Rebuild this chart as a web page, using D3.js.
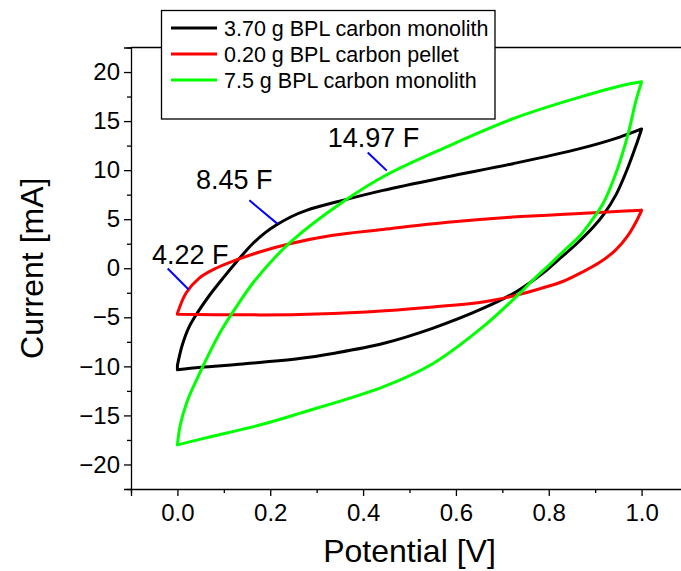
<!DOCTYPE html>
<html><head><meta charset="utf-8">
<script src="https://cdn.jsdelivr.net/npm/d3@7"></script>
<style>
html,body{margin:0;padding:0;background:#fff;}
svg{display:block;font-family:Arial,"Liberation Sans",sans-serif;}
</style></head>
<body>
<svg id="chart" width="681" height="571"></svg>
<script>
// ---- data ----
const seriesNames = ["3.70 g BPL carbon monolith", "0.20 g BPL carbon pellet", "7.5 g BPL carbon monolith"];
const seriesColors = ["#000000", "#ff0000", "#00ff00"];

// 3.70 g monolith: forward scan then reverse scan
const blackV = [0, 0.01, 0.025, 0.045, 0.07, 0.1, 0.127, 0.16, 0.19, 0.213, 0.245, 0.278, 0.356, 0.443, 0.579, 0.723, 0.867, 0.953, 1.0,
                0.988, 0.97, 0.945, 0.92, 0.896, 0.86, 0.824, 0.795, 0.76, 0.73, 0.658, 0.551, 0.443, 0.335, 0.263, 0.141, 0.05, 0];
const blackI = [-9.9, -7.9, -6.0, -4.4, -2.7, -0.9, 0.64, 2.4, 3.65, 4.4, 5.25, 5.9, 6.92, 7.94, 9.3, 10.66, 12.19, 13.37, 14.2,
                12.5, 10.2, 7.5, 5.6, 4.2, 2.5, 1.0, -0.2, -1.45, -2.4, -4.1, -6.1, -7.67, -8.68, -9.2, -9.75, -10.1, -10.35];

// 0.20 g pellet
const redV = [0, 0.019, 0.047, 0.083, 0.127, 0.177, 0.242, 0.335, 0.443, 0.582, 0.723, 0.867, 0.975, 1.0,
              0.99, 0.97, 0.945, 0.91, 0.87, 0.83, 0.78, 0.73, 0.658, 0.551, 0.407, 0.263, 0.141, 0];
const redI = [-4.6, -2.5, -1.0, 0.0, 0.85, 1.66, 2.5, 3.36, 3.95, 4.68, 5.22, 5.57, 5.85, 5.9,
              4.9, 3.3, 1.9, 0.6, -0.45, -1.35, -2.1, -2.75, -3.43, -3.94, -4.45, -4.72, -4.75, -4.7];

// 7.5 g monolith
const greenV = [0, 0.006, 0.02, 0.04, 0.065, 0.095, 0.13, 0.166, 0.21, 0.249, 0.356, 0.45, 0.579, 0.723, 0.867, 0.975, 1.0,
                0.988, 0.971, 0.947, 0.917, 0.89, 0.867, 0.84, 0.80, 0.766, 0.73, 0.658, 0.551, 0.443, 0.263, 0.177, 0.069, 0];
const greenI = [-18.0, -16.0, -13.7, -11.5, -9.0, -6.3, -3.7, -1.3, 1.1, 2.9, 6.75, 9.5, 12.35, 15.24, 17.44, 18.8, 19.0,
                17.1, 13.7, 10.0, 6.6, 4.7, 3.3, 2.1, 0.3, -1.2, -2.9, -5.98, -9.7, -12.09, -14.79, -15.98, -17.2, -18.0];

const xTicks = [0.0, 0.2, 0.4, 0.6, 0.8, 1.0];
const xMinorTicks = [-0.1, 0.1, 0.3, 0.5, 0.7, 0.9, 1.1];
const yTicks = [-20, -15, -10, -5, 0, 5, 10, 15, 20];
const yMinorTicks = [-22.5, -17.5, -12.5, -7.5, -2.5, 2.5, 7.5, 12.5, 17.5, 22.5];

// capacitance annotations (text anchor and leader line, in data units)
const capLabels = ["14.97 F", "8.45 F", "4.22 F"];
const capTextV = [0.324, 0.040, -0.055];
const capTextI = [12.32, 8.1, 0.48];
const capLeadV1 = [0.410, 0.155, -0.021];
const capLeadI1 = [11.8, 6.92, -0.03];
const capLeadV2 = [0.451, 0.215, 0.024];
const capLeadI2 = [9.95, 4.55, -2.17];

// ---- drawing ----
const svg = d3.select("#chart");
const x = d3.scaleLinear().domain([-0.1, 1.1]).range([131, 688]);
const y = d3.scaleLinear().domain([-22.5, 22.5]).range([489, 47.5]);

const series = [
  {V: blackV, I: blackI},
  {V: redV, I: redI},
  {V: greenV, I: greenI}
];

const line = d3.line().x(d => x(d[0])).y(d => y(d[1])).curve(d3.curveCatmullRom.alpha(0.5));

series.forEach((s, k) => {
  const pts = s.V.map((v, i) => [v, s.I[i]]);
  const iMax = d3.maxIndex(pts, d => d[0]);
  const fwd = pts.slice(0, iMax + 1);
  const rev = pts.slice(iMax);
  svg.append("path")
    .attr("d", line(fwd) + line(rev) + line([pts[pts.length - 1], pts[0]]))
    .attr("fill", "none")
    .attr("stroke", seriesColors[k])
    .attr("stroke-width", 3)
    .attr("stroke-linejoin", "miter")
    .attr("stroke-linecap", "round");
});

// axes
const axisG = svg.append("g");
axisG.append("line").attr("x1", x(-0.1)).attr("x2", x(1.1)).attr("y1", y(22.5)).attr("y2", y(22.5))
  .attr("stroke", "#000").attr("stroke-width", 1.3);

const xAxis = d3.axisBottom(x).tickValues(xTicks).tickFormat(d3.format(".1f")).tickSize(7).tickPadding(8);
axisG.append("g").attr("transform", `translate(0,${y(-22.5)})`).call(xAxis);
const xMinor = d3.axisBottom(x).tickValues(xMinorTicks).tickFormat("").tickSize(4);
axisG.append("g").attr("transform", `translate(0,${y(-22.5)})`).call(xMinor).select(".domain").remove();

const yAxis = d3.axisLeft(y).tickValues(yTicks).tickSize(7).tickPadding(4);
axisG.append("g").attr("transform", `translate(${x(-0.1)},0)`).call(yAxis);
const yMinor = d3.axisLeft(y).tickValues(yMinorTicks).tickFormat("").tickSize(4);
axisG.append("g").attr("transform", `translate(${x(-0.1)},0)`).call(yMinor).select(".domain").remove();

axisG.selectAll(".domain").attr("stroke", "#000").attr("stroke-width", 1.3);
axisG.selectAll(".tick line").attr("stroke", "#000").attr("stroke-width", 1.3);
axisG.selectAll(".tick text").attr("font-size", 24).attr("font-family", "Arial, 'Liberation Sans', sans-serif").attr("fill", "#000");

// axis titles
svg.append("text").attr("x", (x(-0.1) + x(1.1)) / 2).attr("y", 562)
  .attr("text-anchor", "middle").attr("font-size", 32).text("Potential [V]");
svg.append("text").attr("transform", `translate(43,${(y(-22.5) + y(22.5)) / 2}) rotate(-90)`)
  .attr("text-anchor", "middle").attr("font-size", 32).text("Current [mA]");

// annotations
capLabels.forEach((t, i) => {
  svg.append("line")
    .attr("x1", x(capLeadV1[i])).attr("y1", y(capLeadI1[i]))
    .attr("x2", x(capLeadV2[i])).attr("y2", y(capLeadI2[i]))
    .attr("stroke", "#0000ff").attr("stroke-width", 2);
  svg.append("text").attr("x", x(capTextV[i])).attr("y", y(capTextI[i]))
    .attr("font-size", 27).attr("fill", "#000").text(t);
});

// legend
const lg = svg.append("g");
lg.append("rect").attr("x", 161.5).attr("y", 10.5).attr("width", 333.5).attr("height", 108.5)
  .attr("fill", "#fff").attr("stroke", "#000").attr("stroke-width", 1.3);
seriesNames.forEach((n, i) => {
  const cy = 28 + i * 26;
  lg.append("line").attr("x1", 171).attr("x2", 217).attr("y1", cy).attr("y2", cy)
    .attr("stroke", seriesColors[i]).attr("stroke-width", 3);
  lg.append("text").attr("x", 224).attr("y", cy + 7.5).attr("font-size", 21.5).attr("fill", "#000").text(n);
});
</script>
</body></html>
